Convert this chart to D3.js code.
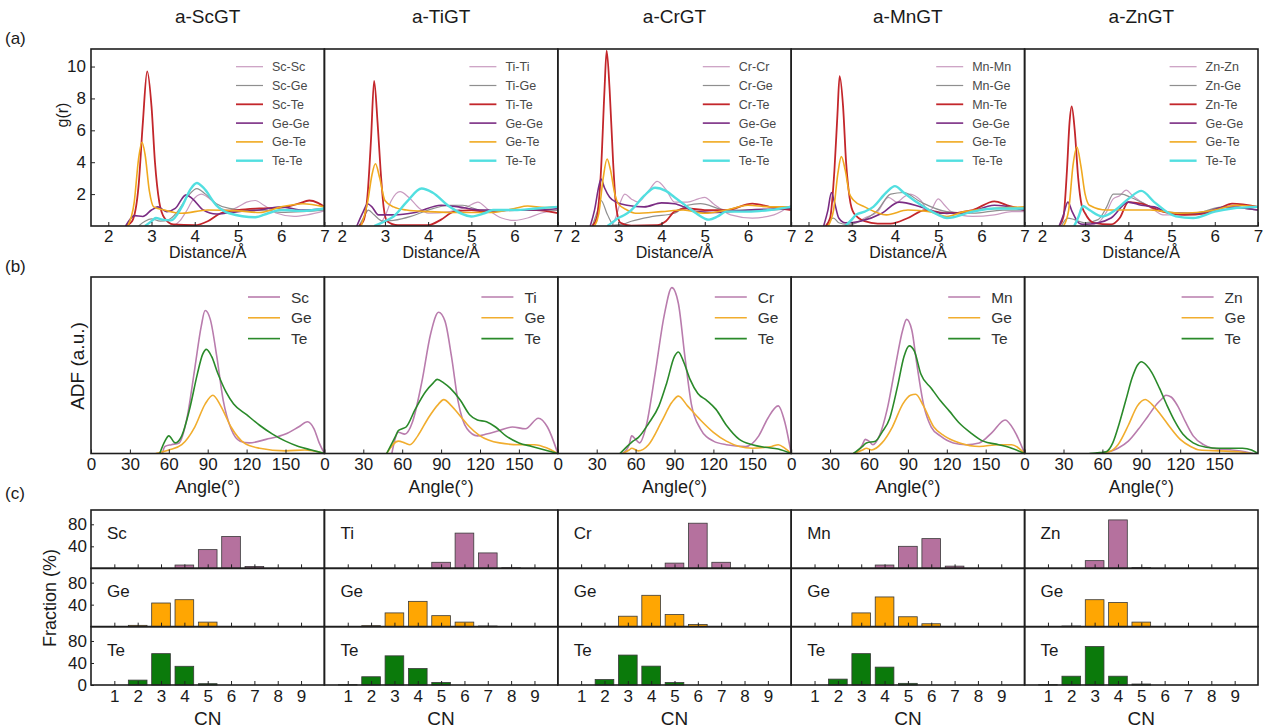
<!DOCTYPE html>
<html>
<head>
<meta charset="utf-8">
<script src="https://cdn.jsdelivr.net/npm/d3@7"></script>
<style>
  body { margin: 0; background: #fff; }
  text { font-family: Arial, "Liberation Sans", sans-serif; }
</style>
</head>
<body>
<svg id="chart" width="1267" height="728"></svg>
<script>
// ---- data ----
var systems = ["Sc", "Ti", "Cr", "Mn", "Zn"];
var pairKeys = ["MM", "MG", "MT", "GG", "GT", "TT"];
var pairColors = ["#c99bc0", "#8f8f8f", "#c3262b", "#7a2c83", "#f0a91f", "#52dfe0"];
var pairWidths = [1.2, 1.2, 1.8, 1.6, 1.6, 2.4];
var rTicks = [2, 3, 4, 5, 6, 7];
var gTicks = [2, 4, 6, 8, 10];
var angleTicks = [0, 30, 60, 90, 120, 150];
var cnTicks = [1, 2, 3, 4, 5, 6, 7, 8, 9];
var fracTicks = [40, 80];
var adfColors = ["#b97cad", "#f1ad2e", "#2a8a2a"];
var barColors = ["#b5719e", "#ffa602", "#0b7a0b"];

// g(r) curves, [distance, g] ; order M-M, M-Ge, M-Te, Ge-Ge, Ge-Te, Te-Te
var rdfSc = [
  [[3.5,0],[3.65,0.3],[3.8,0.9],[3.95,1.6],[4.15,2.0],[4.35,1.7],[4.6,1.1],[4.8,1.0],[5.0,1.2],[5.2,1.5],[5.4,1.6],[5.6,1.3],[5.9,0.8],[6.3,0.6],[6.6,0.7],[7,0.95]],
  [[2.7,0],[2.85,0.3],[3.0,0.45],[3.2,0.3],[3.4,0.4],[3.6,0.9],[3.85,1.9],[4.05,2.35],[4.25,2.0],[4.5,1.4],[4.8,1.1],[5.2,1.0],[5.6,1.0],[6.0,0.85],[6.5,0.9],[7,1.0]],
  [[2.4,0],[2.55,0.3],[2.7,2.5],[2.8,6.5],[2.9,9.7],[3.0,7.5],[3.08,4],[3.18,1.5],[3.3,0.5],[3.5,0.1],[4.0,0.05],[4.3,0.3],[4.6,0.8],[5.0,1.0],[5.5,1.1],[6.0,1.15],[6.4,1.4],[6.65,1.6],[6.85,1.45],[7,1.2]],
  [[2.4,0],[2.5,0.4],[2.6,0.65],[2.8,0.6],[3.0,1.0],[3.15,1.2],[3.35,0.9],[3.55,1.1],[3.8,1.95],[3.95,1.7],[4.2,1.0],[4.5,0.75],[5.0,0.9],[5.5,1.0],[6.0,1.2],[6.5,1.0],[7,1.1]],
  [[2.45,0],[2.6,1.5],[2.7,4.2],[2.78,5.25],[2.85,4.5],[2.95,2.2],[3.05,1.2],[3.3,1.0],[3.7,0.8],[4.3,1.0],[5.0,0.95],[5.5,0.85],[6.0,1.2],[6.5,1.4],[7,1.2]],
  [[2.85,0],[3.0,0.3],[3.1,0.5],[3.25,0.4],[3.45,0.35],[3.7,1.2],[3.9,2.3],[4.05,2.7],[4.2,2.4],[4.5,1.3],[4.8,0.8],[5.4,0.55],[5.7,0.8],[6.0,1.0],[6.5,0.95],[7,1.1]]
];
var rdfTi = [
  [[2.85,0],[3.0,0.6],[3.15,1.6],[3.35,2.15],[3.55,1.8],[3.8,1.1],[4.0,0.8],[4.5,0.9],[4.9,1.2],[5.15,1.5],[5.4,1.0],[5.7,0.5],[6.0,0.35],[6.3,0.5],[6.6,0.8],[7,1.0]],
  [[2.4,0],[2.5,0.5],[2.62,1.0],[2.75,0.7],[2.95,0.3],[3.2,0.35],[3.6,0.6],[4.0,1.0],[4.5,1.3],[4.8,1.3],[5.2,1.0],[5.6,0.95],[6.0,1.0],[6.5,1.0],[7,1.0]],
  [[2.4,0],[2.5,0.3],[2.6,2.0],[2.68,5.5],[2.75,9.1],[2.83,6.5],[2.9,3.5],[2.97,1.2],[3.05,0.3],[3.3,0.05],[4.0,0.05],[4.3,0.4],[4.6,0.9],[5.0,1.0],[5.3,0.9],[6.0,1.0],[6.5,1.0],[7,0.8]],
  [[2.35,0],[2.5,0.9],[2.6,1.4],[2.7,1.2],[2.85,0.7],[3.2,0.7],[3.7,0.85],[4.3,1.3],[4.7,1.2],[5.2,1.0],[5.8,1.0],[6.5,1.0],[7,1.1]],
  [[2.45,0],[2.6,1.5],[2.7,3.2],[2.78,3.9],[2.88,3.0],[3.0,1.6],[3.2,1.2],[3.5,1.0],[4.0,0.9],[4.5,0.85],[5.5,0.85],[6.0,1.1],[6.3,1.25],[6.7,1.15],[7,1.2]],
  [[2.75,0],[3.0,0.3],[3.2,0.6],[3.5,1.5],[3.85,2.35],[4.1,2.1],[4.5,1.2],[5.0,0.6],[5.3,0.8],[5.5,1.0],[6.0,1.0],[6.5,1.1],[7,1.2]]
];
var rdfCr = [
  [[2.85,0],[2.95,0.6],[3.05,1.5],[3.15,2.0],[3.3,1.7],[3.45,1.5],[3.7,2.2],[3.9,2.8],[4.1,2.3],[4.3,1.5],[4.6,1.5],[4.85,1.7],[5.0,1.8],[5.2,1.4],[5.6,0.7],[6.1,0.5],[6.6,0.7],[7,1.3]],
  [[2.4,0],[2.5,0.8],[2.6,1.6],[2.75,0.7],[2.9,0.05],[3.1,0.1],[3.3,0.3],[3.8,0.6],[4.3,0.8],[4.6,1.3],[4.9,1.4],[5.5,1.0],[6.0,1.0],[6.5,1.0],[7,1.1]],
  [[2.4,0],[2.5,0.5],[2.6,3.5],[2.68,8.5],[2.73,11.0],[2.8,8.5],[2.88,4.0],[2.95,1.2],[3.05,0.2],[3.3,0.02],[3.9,0.05],[4.1,0.3],[4.3,0.9],[4.6,1.1],[5.0,1.0],[5.5,1.0],[6.1,1.4],[6.5,1.2],[7,1.0]],
  [[2.35,0],[2.45,1.0],[2.55,2.5],[2.6,2.95],[2.68,2.4],[2.8,1.8],[2.95,1.5],[3.2,1.3],[3.6,1.2],[4.0,1.45],[4.3,1.4],[4.6,1.1],[4.8,0.9],[5.2,0.85],[6.0,1.0],[7,1.1]],
  [[2.45,0],[2.55,0.8],[2.65,3.0],[2.74,4.2],[2.82,3.5],[2.92,2.0],[3.0,1.4],[3.2,1.0],[3.4,0.8],[4.0,0.9],[4.5,1.0],[5.0,0.8],[5.5,1.0],[6.0,1.3],[6.5,1.2],[7,1.2]],
  [[2.75,0],[2.9,0.3],[3.0,0.5],[3.15,0.7],[3.3,1.0],[3.6,1.9],[3.85,2.4],[4.1,2.2],[4.3,1.8],[4.6,1.2],[4.8,0.8],[5.1,0.4],[5.3,0.6],[5.5,0.9],[6.0,0.9],[6.5,1.0],[7,1.2]]
];
var rdfMn = [
  [[2.95,0],[3.1,0.2],[3.3,0.5],[3.6,0.9],[3.85,1.8],[4.05,1.5],[4.2,1.8],[4.35,2.0],[4.6,1.6],[4.8,0.9],[5.0,1.7],[5.15,1.3],[5.3,0.9],[5.8,0.6],[6.3,0.7],[6.7,0.9],[7,0.9]],
  [[2.4,0],[2.5,0.4],[2.58,0.5],[2.7,0.2],[2.9,0.1],[3.2,0.3],[3.6,1.0],[3.9,2.0],[4.2,2.1],[4.6,1.5],[5.2,0.9],[5.8,0.8],[6.5,1.0],[7,1.0]],
  [[2.4,0],[2.5,0.5],[2.6,3.5],[2.67,7.0],[2.72,9.4],[2.8,7.5],[2.87,4.0],[2.95,1.8],[3.05,0.8],[3.3,0.3],[3.6,0.15],[3.9,0.15],[4.3,0.5],[4.7,1.0],[5.2,0.8],[5.8,1.0],[6.3,1.55],[6.6,1.3],[7,1.0]],
  [[2.35,0],[2.45,1.0],[2.53,2.1],[2.6,1.5],[2.7,0.5],[2.85,0.2],[3.2,0.3],[3.7,0.8],[4.1,1.5],[4.6,1.2],[5.1,0.8],[5.6,0.8],[6.3,1.3],[7,1.0]],
  [[2.45,0],[2.58,1.0],[2.68,3.3],[2.76,4.35],[2.85,3.5],[2.95,2.0],[3.05,1.6],[3.3,1.2],[3.8,0.7],[4.3,1.0],[4.8,0.9],[5.2,0.6],[5.6,0.9],[6.3,1.1],[7,1.2]],
  [[2.85,0],[3.0,0.4],[3.1,0.7],[3.3,0.9],[3.5,1.2],[3.8,2.1],[4.0,2.5],[4.2,2.1],[4.5,1.5],[5.0,0.7],[5.2,0.5],[5.8,0.9],[6.3,1.1],[7,1.1]]
];
var rdfZn = [
  [[3.05,0],[3.3,0.2],[3.5,0.9],[3.65,1.7],[3.8,1.9],[3.95,2.25],[4.1,1.9],[4.3,1.5],[4.6,1.0],[4.8,0.7],[5.3,0.7],[6.0,1.0],[6.4,1.3],[6.7,1.1],[7,1.0]],
  [[2.45,0],[2.6,0.5],[2.75,0.4],[3.0,0.2],[3.3,0.4],[3.5,1.2],[3.65,2.0],[3.85,2.0],[4.05,1.8],[4.3,1.5],[4.8,0.9],[5.5,0.8],[6.2,1.2],[7,1.0]],
  [[2.4,0],[2.5,0.6],[2.58,3.5],[2.64,6.5],[2.69,7.5],[2.76,6.0],[2.84,3.0],[2.92,1.3],[3.0,0.8],[3.2,0.2],[3.6,0.1],[3.8,0.5],[4.0,1.5],[4.3,1.4],[4.8,0.9],[5.3,0.7],[5.8,0.8],[6.1,1.1],[6.4,1.4],[7,1.2]],
  [[2.4,0],[2.5,0.7],[2.6,1.5],[2.7,0.9],[2.85,0.2],[2.95,0.1],[3.3,0.2],[3.6,0.5],[4.0,1.5],[4.3,1.3],[4.6,1.2],[5.0,0.8],[5.6,0.8],[6.3,1.2],[7,1.0]],
  [[2.5,0],[2.62,1.0],[2.72,3.8],[2.81,4.95],[2.9,3.8],[3.0,2.0],[3.1,1.3],[3.5,1.0],[4.0,1.0],[4.5,1.0],[5.2,0.8],[6.0,1.0],[6.5,1.3],[7,1.2]],
  [[2.75,0],[2.85,0.6],[2.95,1.25],[3.1,1.0],[3.4,0.6],[3.7,1.0],[4.0,1.7],[4.3,2.2],[4.6,1.5],[5.1,0.6],[5.5,0.5],[6.0,0.9],[6.4,1.1],[7,1.2]]
];

// ADF curves, [angle, a.u.] ; order M, Ge, Te
var adfSc = [
  [[55,0],[57,4],[62,5],[68,6],[74,20],[80,48],[85,72],[88,81],[92,76],[97,55],[102,30],[108,14],[115,7],[122,6],[135,8],[150,11],[160,15],[167,18],[172,14],[176,6],[180,0]],
  [[50,0],[60,2],[70,5],[80,15],[88,28],[94,33],[100,27],[108,15],[118,6],[130,3],[150,1.5],[165,2],[175,1],[180,0]],
  [[53,0],[57,7],[60,10],[65,6],[70,10],[76,25],[82,45],[86,56],[89,59],[93,55],[98,45],[104,35],[110,28],[120,22],[130,16],[140,11],[150,7],[160,4],[170,2],[180,0]]
];
var adfTi = [
  [[52,0],[57,12],[62,11],[68,18],[75,40],[82,68],[88,80],[93,75],[98,55],[103,30],[110,14],[118,10],[125,11],[135,13],[145,15],[155,14],[165,20],[172,15],[180,0]],
  [[48,0],[57,7],[62,6],[66,5],[72,10],[80,20],[88,28],[92,30.5],[98,27],[105,21],[112,15],[120,10],[135,6],[150,5],[162,5],[172,3],[180,0]],
  [[48,0],[55,10],[57,13],[60,14],[63,15],[70,25],[78,35],[84,40],[87,42],[92,40],[97,37],[105,30],[112,22],[118,19],[125,18],[132,15],[140,10],[150,6],[160,4],[170,2],[180,0]]
];
var adfCr = [
  [[50,0],[55,5],[57,10],[60,8],[63,6],[68,15],[75,45],[82,78],[88,94],[93,85],[98,55],[103,28],[110,14],[120,7],[130,5],[145,4],[155,10],[162,20],[170,27],[175,18],[180,0]],
  [[50,0],[55,2],[57,3],[62,1.5],[70,5],[80,18],[88,29],[93,32.5],[100,27],[110,19],[120,12],[130,7],[140,4],[150,3],[165,4],[170,5],[175,3],[180,0]],
  [[48,0],[55,5],[58,7],[62,9],[70,17],[78,27],[84,40],[90,55],[93,57.5],[97,52],[102,42],[108,34],[115,30],[122,25],[130,16],[140,8],[150,5],[160,3.5],[170,2.5],[180,0]]
];
var adfMn = [
  [[50,0],[55,5],[57,8],[60,7],[63,5],[68,10],[74,25],[80,48],[86,70],[89,76],[93,70],[97,50],[102,28],[108,15],[115,10],[125,6],[135,5],[145,6],[155,12],[165,19],[172,13],[180,0]],
  [[48,0],[55,2],[58,3],[62,2],[70,6],[78,15],[86,28],[92,33],[96,33.6],[102,27],[110,15],[118,10],[130,6],[145,4],[160,5],[170,5],[180,0]],
  [[48,0],[55,4],[58,6],[65,7],[70,12],[76,20],[82,38],[87,55],[91,61],[95,58],[100,45],[108,37],[115,30],[122,24],[130,17],[138,12],[148,7],[160,5],[170,3],[180,0]]
];
var adfZn = [
  [[55,0],[65,1],[72,3],[80,7],[88,14],[95,21],[102,28],[106,31],[109,33],[113,32],[118,27],[124,18],[130,10],[138,5],[145,3],[160,2],[170,1],[176,0]],
  [[55,0],[65,1],[72,5],[80,16],[87,27],[93,30.6],[98,28],[105,22],[112,15],[120,8],[128,4],[135,2],[150,1.5],[165,1],[175,0]],
  [[50,0],[58,0.5],[63,1],[68,6],[73,17],[78,30],[83,43],[87,50],[90,52],[94,50],[98,46],[104,37],[110,27],[116,18],[122,11],[130,6],[140,3.5],[150,3],[160,3],[168,3],[175,2],[180,0]]
];

// coordination number fractions (%), CN = 1..9 ; rows M, Ge, Te
var cnSc = [
  [0, 0, 0, 6, 34, 58, 3.5, 0, 0],
  [0, 2.4, 43, 49, 8.3, 0, 0, 0, 0],
  [0, 8.9, 57, 34, 2.4, 0, 0, 0, 0]
];
var cnTi = [
  [0, 0, 0, 0, 11, 64, 28, 1, 0],
  [0, 1.8, 25, 46, 20, 8.3, 1.2, 0, 0],
  [0.6, 15, 53, 30, 4.7, 0, 0, 0, 0]
];
var cnCr = [
  [0, 0, 0, 0, 9.5, 82, 11, 0, 0],
  [0, 0, 19, 57, 22, 4, 0, 0, 0],
  [0, 10, 54.4, 34.3, 4.7, 0, 0, 0, 0]
];
var cnMn = [
  [0, 0, 0, 6, 40, 54, 4, 0, 0],
  [0, 0, 25, 54, 18, 5.3, 0, 0, 0],
  [0, 10.7, 57, 32.5, 3, 0, 0, 0, 0]
];
var cnZn = [
  [0, 0, 14, 88, 1.2, 0, 0, 0, 0],
  [0, 1.2, 49, 44, 8.3, 0, 0, 0, 0],
  [0.6, 16, 70, 16, 1.8, 0, 0, 0, 0]
];

var rdfAll = [rdfSc, rdfTi, rdfCr, rdfMn, rdfZn];
var adfAll = [adfSc, adfTi, adfCr, adfMn, adfZn];
var cnAll = [cnSc, cnTi, cnCr, cnMn, cnZn];

// ---- layout ----
var svg = d3.select("#chart");
var left0 = 91, panelW = (1258 - 91) / 5;
var aTop = 49, aBot = 226;
var bTop = 277, bBot = 453.5;
var cTop = 510, cBot = 685, subH = (cBot - cTop) / 3;
var font = "Arial, 'Liberation Sans', sans-serif";
var fmtInt = d3.format("d");

function styleAxis(g, size) {
  g.select(".domain").remove();
  g.selectAll(".tick line").attr("stroke", "#222").attr("stroke-width", 1);
  g.selectAll(".tick text").attr("font-family", font).attr("font-size", size).attr("fill", "#1a1a1a");
}

function frame(x, y, w, h) {
  svg.append("rect").attr("x", x).attr("y", y).attr("width", w).attr("height", h)
    .attr("fill", "none").attr("stroke", "#1e1e1e").attr("stroke-width", 1.6);
}

function label(x, y, txt, size, opts) {
  opts = opts || {};
  var t = svg.append("text")
    .attr("font-family", font)
    .attr("font-size", size)
    .attr("fill", opts.fill || "#1a1a1a")
    .attr("text-anchor", opts.anchor || "middle")
    .text(txt);
  if (opts.rotate) {
    t.attr("transform", "translate(" + x + "," + y + ") rotate(-90)").attr("dy", "0.35em");
  } else {
    t.attr("x", x).attr("y", y);
  }
  return t;
}

// panel letters and y titles
label(5, 44, "(a)", 17, {anchor: "start"});
label(5, 272, "(b)", 17, {anchor: "start"});
label(5, 499, "(c)", 17, {anchor: "start"});
label(62, 115, "g(r)", 16, {rotate: true});
label(77, 366, "ADF (a.u.)", 19, {rotate: true});
label(50, 598, "Fraction (%)", 18, {rotate: true});

systems.forEach(function(sys, i) {
  var pl = left0 + i * panelW, pr = pl + panelW, cx = pl + panelW / 2;

  label(cx, 23, "a-" + sys + "GT", 19);

  // ---- (a) g(r) ----
  var x = d3.scaleLinear().domain([1.6, 7]).range([pl, pr]);
  var y = d3.scaleLinear().domain([0, 11.1]).range([aBot, aTop]);
  var clipId = "clipA" + i;
  svg.append("clipPath").attr("id", clipId).append("rect")
    .attr("x", pl).attr("y", aTop).attr("width", panelW).attr("height", aBot - aTop);
  var line = d3.line().x(function(d) { return x(d[0]); }).y(function(d) { return y(d[1]); })
    .curve(d3.curveMonotoneX);
  var ga = svg.append("g").attr("clip-path", "url(#" + clipId + ")");
  rdfAll[i].forEach(function(series, k) {
    ga.append("path").attr("d", line(series)).attr("fill", "none")
      .attr("stroke", pairColors[k]).attr("stroke-width", pairWidths[k])
      .attr("stroke-linejoin", "round");
  });
  var ax = svg.append("g").attr("transform", "translate(0," + aBot + ")")
    .call(d3.axisBottom(x).tickValues(rTicks).tickFormat(fmtInt).tickSize(-4).tickPadding(4));
  styleAxis(ax, 17);
  if (i === 0) {
    var ay = svg.append("g").attr("transform", "translate(" + pl + ",0)")
      .call(d3.axisLeft(y).tickValues(gTicks).tickFormat(fmtInt).tickSize(-4).tickPadding(5));
    styleAxis(ay, 17);
  }
  frame(pl, aTop, panelW, aBot - aTop);
  label(cx, 258, "Distance/\u00c5", 16);

  // legend (a)
  var pairNames = [sys + "-" + sys, sys + "-Ge", sys + "-Te", "Ge-Ge", "Ge-Te", "Te-Te"];
  pairNames.forEach(function(nm, k) {
    var ly = aTop + 17.7 + k * 18.8;
    svg.append("line").attr("x1", pl + 145).attr("x2", pl + 172).attr("y1", ly).attr("y2", ly)
      .attr("stroke", pairColors[k]).attr("stroke-width", pairWidths[k]);
    svg.append("text").attr("x", pl + 181).attr("y", ly).attr("dy", "0.36em")
      .attr("font-family", font).attr("font-size", 12.5).attr("fill", "#4a4a4a").text(nm);
  });

  // ---- (b) ADF ----
  var xb = d3.scaleLinear().domain([0, 180]).range([pl, pr]);
  var yb = d3.scaleLinear().domain([0, 100]).range([bBot, bTop]);
  var clipB = "clipB" + i;
  svg.append("clipPath").attr("id", clipB).append("rect")
    .attr("x", pl).attr("y", bTop).attr("width", panelW).attr("height", bBot - bTop);
  var lineB = d3.line().x(function(d) { return xb(d[0]); }).y(function(d) { return yb(d[1]); })
    .curve(d3.curveMonotoneX);
  var gb = svg.append("g").attr("clip-path", "url(#" + clipB + ")");
  adfAll[i].forEach(function(series, k) {
    gb.append("path").attr("d", lineB(series)).attr("fill", "none")
      .attr("stroke", adfColors[k]).attr("stroke-width", 1.6).attr("stroke-linejoin", "round");
  });
  var bx = svg.append("g").attr("transform", "translate(0," + bBot + ")")
    .call(d3.axisBottom(xb).tickValues(angleTicks).tickSize(-4).tickPadding(4));
  styleAxis(bx, 17);
  frame(pl, bTop, panelW, bBot - bTop);
  label(cx, 493, "Angle(\u00b0)", 18);

  var adfNames = [sys, "Ge", "Te"];
  adfNames.forEach(function(nm, k) {
    var ly = bTop + 20 + k * 20.8;
    svg.append("line").attr("x1", pl + 157).attr("x2", pl + 189).attr("y1", ly).attr("y2", ly)
      .attr("stroke", adfColors[k]).attr("stroke-width", 1.6);
    svg.append("text").attr("x", pl + 200).attr("y", ly).attr("dy", "0.36em")
      .attr("font-family", font).attr("font-size", 15.5).attr("fill", "#333").text(nm);
  });

  // ---- (c) CN histograms ----
  var xc = d3.scaleLinear().domain([0, 10]).range([pl, pr]);
  var rowNames = [sys, "Ge", "Te"];
  cnAll[i].forEach(function(vals, r) {
    var st = cTop + r * subH, sb = st + subH;
    var yc = d3.scaleLinear().domain([0, 106]).range([sb, st]);
    svg.append("g").selectAll("rect").data(vals).enter().append("rect")
      .attr("x", function(d, j) { return xc(cnTicks[j] - 0.4); })
      .attr("width", xc(0.8) - xc(0))
      .attr("y", function(d) { return yc(d); })
      .attr("height", function(d) { return sb - yc(d); })
      .attr("fill", barColors[r])
      .attr("stroke", "#3a3a3a").attr("stroke-width", 0.8);
    var cx_ = svg.append("g").attr("transform", "translate(0," + sb + ")")
      .call(d3.axisBottom(xc).tickValues(cnTicks).tickSize(-4).tickPadding(5));
    styleAxis(cx_, 17);
    if (r < 2) cx_.selectAll(".tick text").remove();
    if (i === 0) {
      var cy = svg.append("g").attr("transform", "translate(" + pl + ",0)")
        .call(d3.axisLeft(yc).tickValues(r === 2 ? [0].concat(fracTicks) : fracTicks)
          .tickSize(-3).tickPadding(4));
      styleAxis(cy, 17);
    }
    label(pl + 16, st + 29, rowNames[r], 17, {anchor: "start"});
    frame(pl, st, panelW, subH);
  });
  label(cx, 725, "CN", 19);
});
</script>
</body>
</html>
